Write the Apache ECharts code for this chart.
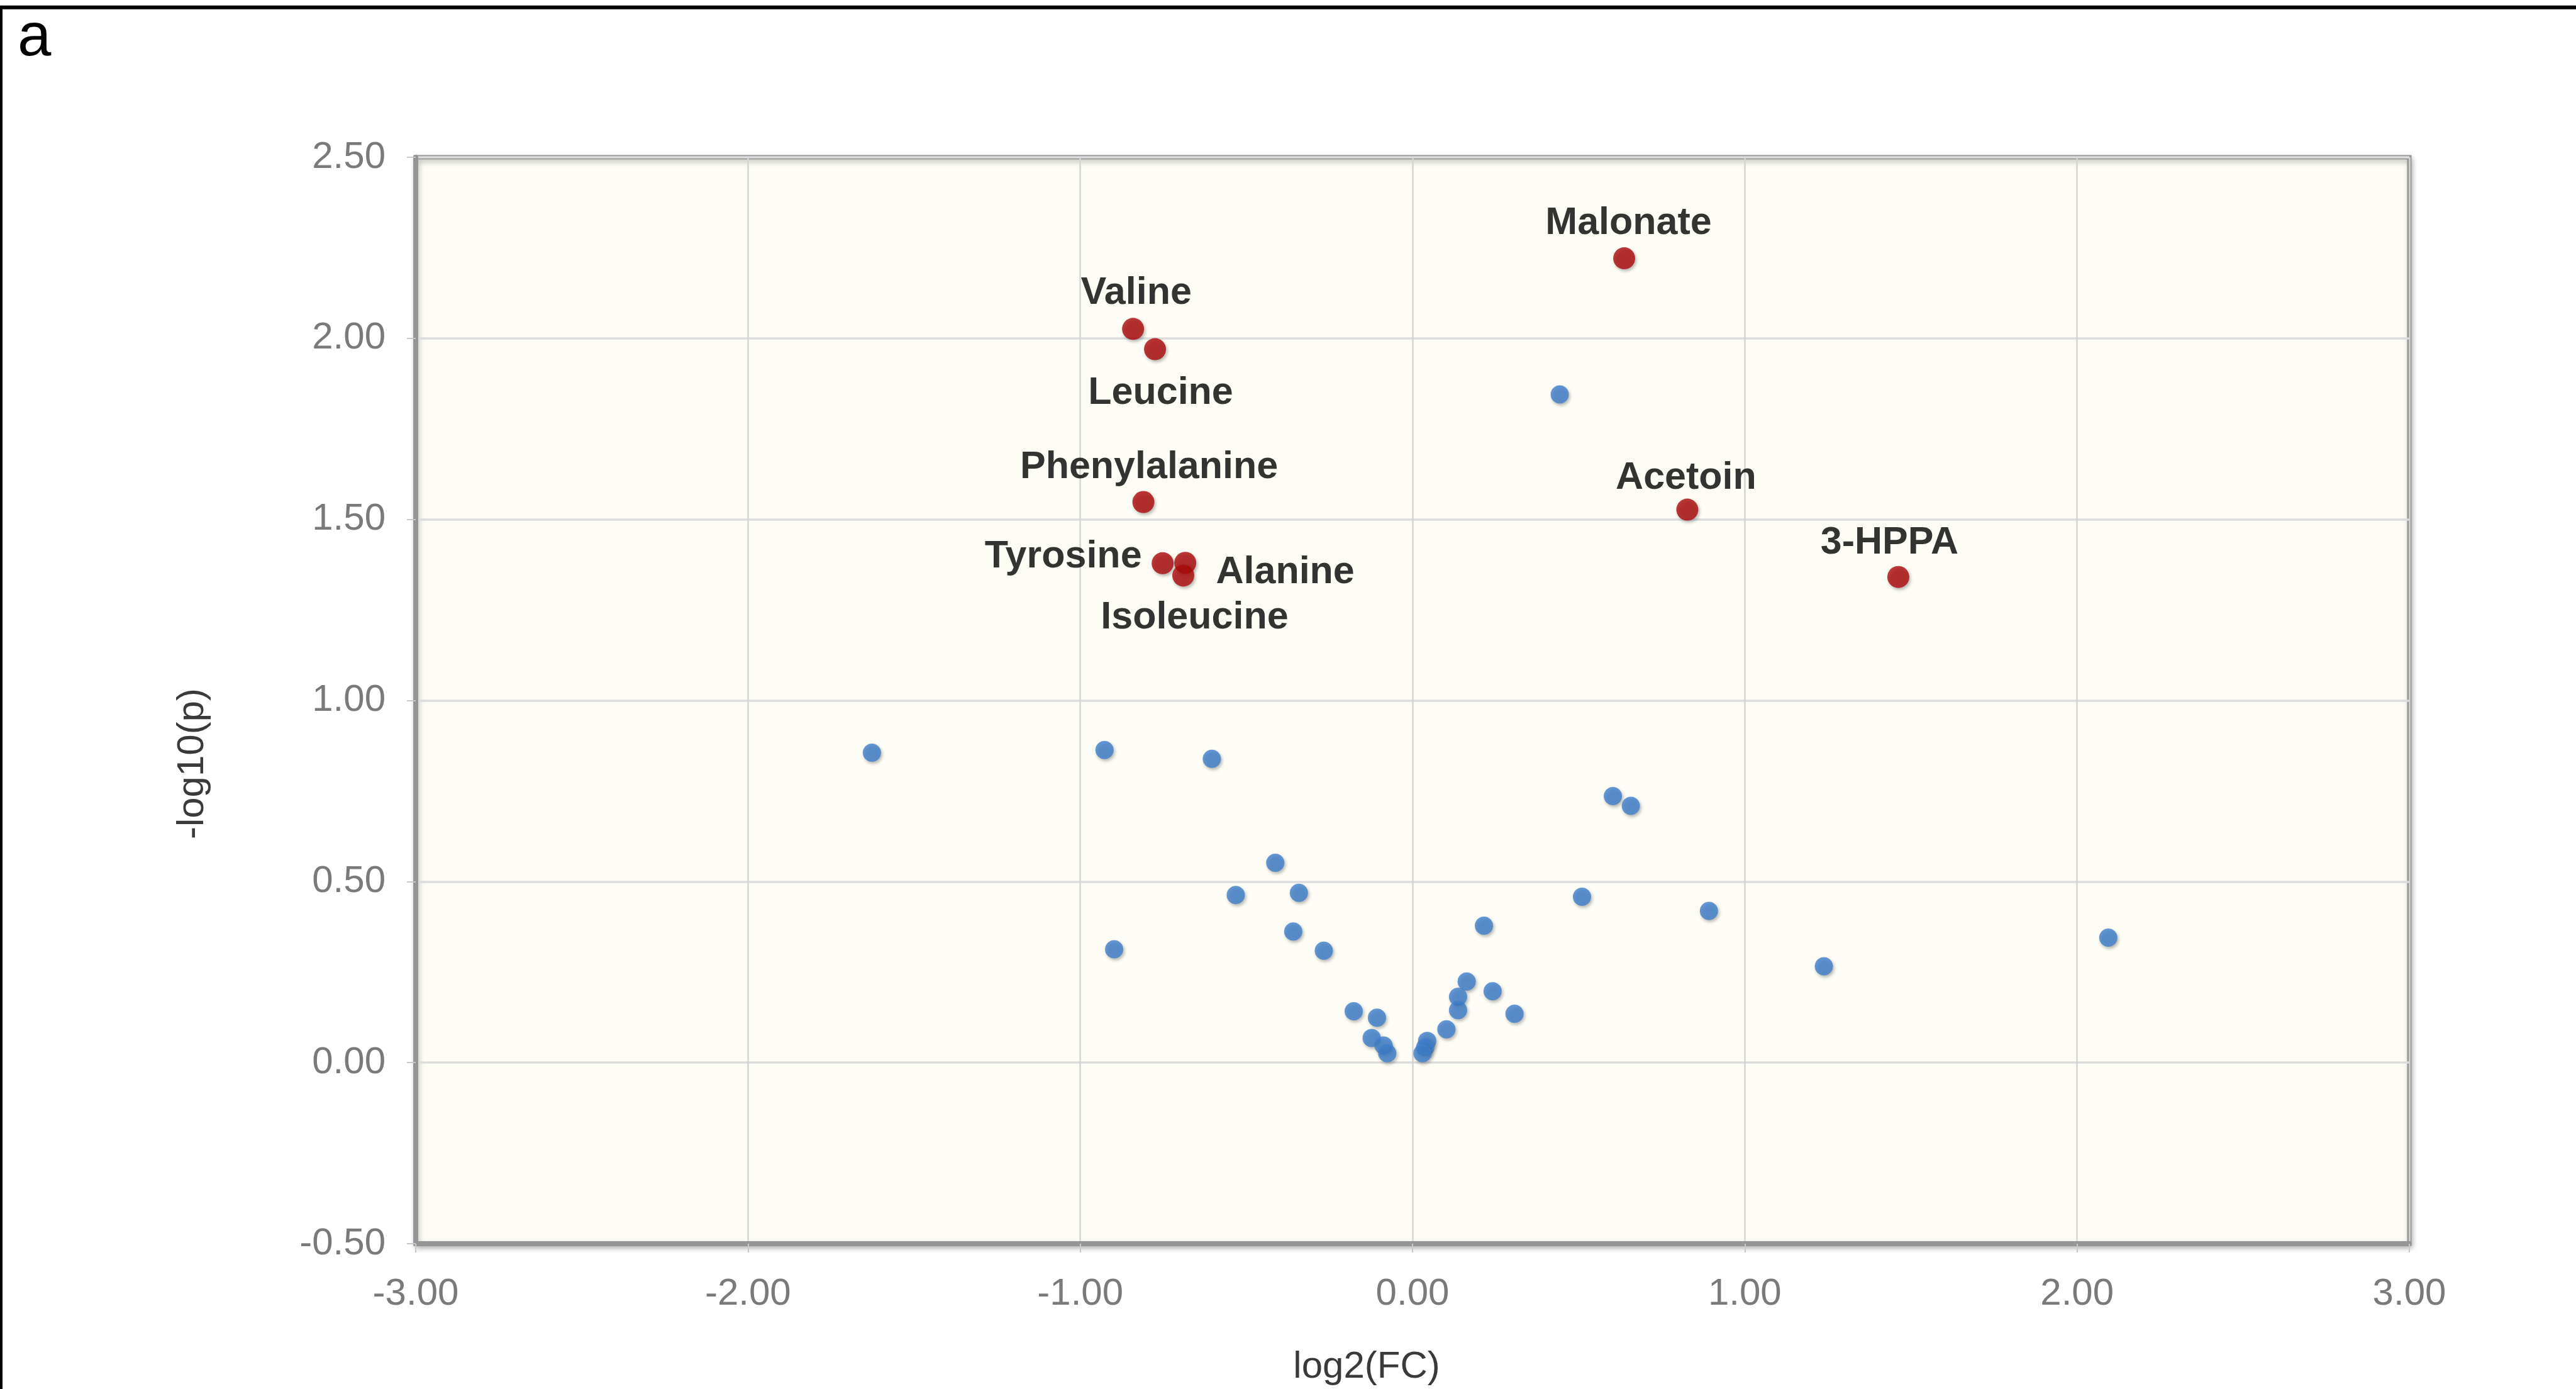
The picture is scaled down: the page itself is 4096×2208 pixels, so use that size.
<!DOCTYPE html>
<html>
<head>
<meta charset="utf-8">
<script src="https://cdn.jsdelivr.net/npm/echarts@6/dist/echarts.min.js"></script>
<style>
html,body{margin:0;padding:0;background:#fff;}
#chart{width:4096px;height:2208px;}
</style>
</head>
<body>
<div id="chart"></div>
<script>
// ---- data ----
var blueX = [0.443, -1.627, -0.927, -0.604, 0.603, 0.657, -0.413, -0.532, -0.342, -0.359, -0.267, -0.898,
             0.510, 0.892, 0.215, 2.094, 1.238, 0.163, 0.241, 0.137, 0.137, 0.307, -0.177, -0.107,
             0.102, -0.123, -0.087, -0.076, 0.044, 0.038, 0.030];
var blueY = [1.845, 0.856, 0.863, 0.839, 0.736, 0.709, 0.552, 0.463, 0.469, 0.362, 0.309, 0.313,
             0.458, 0.419, 0.378, 0.345, 0.266, 0.224, 0.197, 0.182, 0.145, 0.135, 0.142, 0.124,
             0.092, 0.068, 0.047, 0.026, 0.060, 0.042, 0.026];
var redNames = ['Valine', 'Leucine', 'Phenylalanine', 'Tyrosine', 'Alanine', 'Isoleucine', 'Malonate', 'Acetoin', '3-HPPA'];
var redX = [-0.841, -0.775, -0.810, -0.752, -0.684, -0.690, 0.637, 0.827, 1.462];
var redY = [2.026, 1.970, 1.548, 1.379, 1.380, 1.345, 2.221, 1.527, 1.341];
var xTickMin = -3, xTickMax = 3, xTickStep = 1;
var yTickMin = -0.5, yTickMax = 2.5, yTickStep = 0.5;
var xName = 'log2(FC)', yName = '-log10(p)', panelLetter = 'a';

// ---- styles ----
var labelOffsets = {
  'Valine': [5, -57], 'Leucine': [9, 70], 'Phenylalanine': [9, -55], 'Tyrosine': [-158, -10],
  'Alanine': [159, 15], 'Isoleucine': [18, 67], 'Malonate': [7, -55], 'Acetoin': [-2, -50], '3-HPPA': [-14, -54]
};
var FONT = "'Liberation Sans', Arial, Helvetica, sans-serif";

var blueData = blueX.map(function (x, i) { return [x, blueY[i]]; });
var redData = redX.map(function (x, i) { return { name: redNames[i], value: [x, redY[i]] }; });

var chart = echarts.init(document.getElementById('chart'), null, { renderer: 'canvas' });
var shadow = { shadowColor: 'rgba(0,0,0,0.35)', shadowBlur: 5, shadowOffsetX: 2, shadowOffsetY: 3 };

chart.setOption({
  animation: false,
  backgroundColor: '#ffffff',
  grid: {
    left: 661, right: 265, top: 250, bottom: 231,
    show: true, backgroundColor: '#fdfdf6', borderColor: '#959595', borderWidth: 7,
    shadowColor: 'rgba(0,0,0,0.25)', shadowBlur: 8, shadowOffsetX: 2, shadowOffsetY: 4
  },
  xAxis: {
    type: 'value', min: xTickMin, max: xTickMax, interval: xTickStep,
    axisLine: { show: true, onZero: false, lineStyle: { color: '#959595', width: 8 } },
    axisTick: { show: true, length: 14, lineStyle: { color: '#c8c8c8', width: 2 } },
    axisLabel: { margin: 50, color: '#7a7a7a', fontSize: 60, fontFamily: FONT,
                 formatter: function (v) { return v.toFixed(2); } },
    splitLine: { show: true, lineStyle: { color: '#d4d4d4', width: 2.5 } }
  },
  yAxis: {
    type: 'value', min: yTickMin, max: yTickMax, interval: yTickStep,
    axisLine: { show: true, onZero: false, lineStyle: { color: '#959595', width: 8 } },
    axisTick: { show: true, length: 14, lineStyle: { color: '#c8c8c8', width: 2 } },
    axisLabel: { margin: 48, color: '#7a7a7a', fontSize: 60, fontFamily: FONT,
                 formatter: function (v) { return v.toFixed(2); } },
    splitLine: { show: true, lineStyle: { color: '#dddddd', width: 3.5 } }
  },
  series: [
    {
      type: 'scatter', data: blueData, symbol: 'circle', symbolSize: 29, z: 3,
      itemStyle: Object.assign({ color: '#3f80cd' }, shadow)
    },
    {
      type: 'scatter', data: redData, symbol: 'circle', symbolSize: 35, z: 4,
      itemStyle: Object.assign({ color: '#ac0a0a' }, shadow),
      label: { show: true, position: 'inside', formatter: '{b}', color: '#000000',
               fontSize: 61, fontWeight: 'bold', fontFamily: FONT },
      labelLayout: function (p) {
        var o = labelOffsets[redNames[p.dataIndex]] || [0, 0];
        return { dx: o[0], dy: o[1], hideOverlap: false };
      }
    }
  ],
  graphic: [
    { type: 'line', shape: { x1: 0, y1: 11.8, x2: 4096, y2: 11.8 }, style: { stroke: '#000', lineWidth: 6 }, z: 10 },
    { type: 'line', shape: { x1: 2, y1: 9, x2: 2, y2: 2208 }, style: { stroke: '#000', lineWidth: 4 }, z: 10 },
    { type: 'text', left: 28, top: 14, style: { text: panelLetter, fontSize: 96, fontFamily: FONT, fill: '#000' }, z: 10 },
    { type: 'text', x: 2173, y: 2173, style: { text: xName, fontSize: 60, fontFamily: FONT, fill: '#3a3a3a',
      align: 'center', verticalAlign: 'middle' }, z: 10 },
    { type: 'text', x: 306, y: 1214, rotation: Math.PI / 2, style: { text: yName, fontSize: 60, fontFamily: FONT, fill: '#3a3a3a',
      align: 'center', verticalAlign: 'middle' }, z: 10 }
  ]
});
</script>
</body>
</html>
